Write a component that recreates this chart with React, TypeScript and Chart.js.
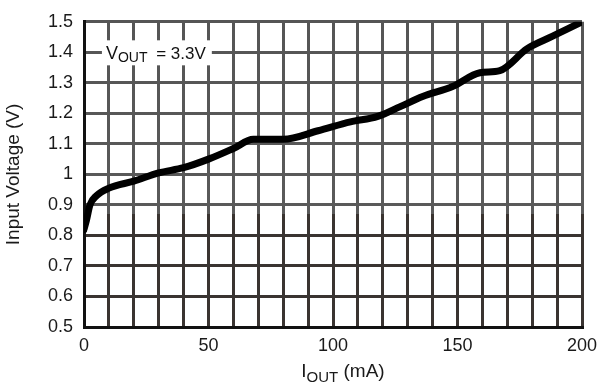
import React, { useEffect, useRef } from "react";
import { Chart, registerables } from "chart.js";

Chart.register(...registerables);

const currentMa = [0, 1, 2.4, 5, 10, 20, 30, 40, 50, 60, 68, 80, 94, 107, 118, 127, 136, 148, 159, 167, 178, 188, 200];
const inputV = [0.82, 0.85, 0.9, 0.93, 0.955, 0.978, 1.005, 1.022, 1.05, 1.085, 1.115, 1.115, 1.143, 1.172, 1.19, 1.222, 1.255, 1.288, 1.333, 1.34, 1.412, 1.452, 1.5];
const xTickLabels = ["0", "50", "100", "150", "200"];
const yTickLabels = ["0.5", "0.6", "0.7", "0.8", "0.9", "1", "1.1", "1.2", "1.3", "1.4", "1.5"];
const annotationMain = "V";
const annotationSub = "OUT";
const annotationRest = " = 3.3V";
const xTitleMain = "I";
const xTitleSub = "OUT";
const xTitleRest = " (mA)";
const yTitle = "Input Voltage (V)";

const FONT = "'Liberation Sans', Arial, sans-serif";

const textPlugin = {
  id: "subscriptTexts",
  beforeDatasetsDraw(chart: any) {
    const ctx = chart.ctx;
    const xs = chart.scales.x;
    const ys = chart.scales.y;
    const ax = xs.getPixelForValue(8);
    const ay = ys.getPixelForValue(1.4);
    ctx.save();
    ctx.font = `18px ${FONT}`;
    const w1 = ctx.measureText(annotationMain).width;
    ctx.font = `14px ${FONT}`;
    const w2 = ctx.measureText(annotationSub).width;
    ctx.font = `17px ${FONT}`;
    const w3 = ctx.measureText(annotationRest).width;
    const total = w1 + w2 + w3;
    ctx.fillStyle = "#ffffff";
    ctx.fillRect(ax - 2, ay - 12, total + 14, 25);
    ctx.fillStyle = "#111";
    ctx.textBaseline = "alphabetic";
    ctx.textAlign = "left";
    const base = ay + 7;
    let cx = ax + 2;
    ctx.font = `18px ${FONT}`;
    ctx.fillText(annotationMain, cx, base);
    cx += w1;
    ctx.font = `14px ${FONT}`;
    ctx.fillText(annotationSub, cx, base + 3);
    cx += w2;
    ctx.font = `17px ${FONT}`;
    ctx.fillText(annotationRest, cx + 4, base);
    ctx.restore();
  },
  afterDraw(chart: any) {
    const ctx = chart.ctx;
    const area = chart.chartArea;
    ctx.save();
    ctx.fillStyle = "#1a1a1a";
    ctx.textBaseline = "alphabetic";
    ctx.textAlign = "left";
    ctx.font = `19px ${FONT}`;
    const w1 = ctx.measureText(xTitleMain).width;
    ctx.font = `15px ${FONT}`;
    const w2 = ctx.measureText(xTitleSub).width;
    ctx.font = `19px ${FONT}`;
    const w3 = ctx.measureText(xTitleRest).width;
    const total = w1 + w2 + w3;
    const cxm = (area.left + area.right) / 2 + 10;
    let cx = cxm - total / 2;
    const base = area.bottom + 50;
    ctx.font = `19px ${FONT}`;
    ctx.fillText(xTitleMain, cx, base);
    cx += w1;
    ctx.font = `15px ${FONT}`;
    ctx.fillText(xTitleSub, cx, base + 5);
    cx += w2;
    ctx.font = `19px ${FONT}`;
    ctx.fillText(xTitleRest, cx, base);
    ctx.restore();
  },
};

function gridColor(context: any) {
  const chart = context.chart;
  const area = chart.chartArea;
  if (!area) return "#3a3431";
  const ys = chart.scales.y;
  const g = chart.ctx.createLinearGradient(0, area.top, 0, area.bottom);
  const split = ys ? (ys.getPixelForValue(0.87) - area.top) / (area.bottom - area.top) : 0.65;
  g.addColorStop(0, "#555555");
  g.addColorStop(Math.max(0, Math.min(1, split - 0.001)), "#5a5a5a");
  g.addColorStop(Math.max(0, Math.min(1, split)), "#3a3431");
  g.addColorStop(1, "#3a3431");
  return g;
}

export default function App() {
  const ref = useRef<HTMLCanvasElement | null>(null);
  useEffect(() => {
    if (!ref.current) return;
    const chart = new Chart(ref.current, {
      type: "line",
      data: {
        datasets: [
          {
            data: currentMa.map((x, i) => ({ x, y: inputV[i] })),
            borderColor: "#000000",
            backgroundColor: "#000000",
            borderWidth: 7,
            borderCapStyle: "round",
            borderJoinStyle: "round",
            tension: 0.3,
            cubicInterpolationMode: "monotone",
            pointStyle: "rect",
            pointRadius: (c: any) => (c.dataIndex === 0 ? 4 : 0),
            pointBorderWidth: 0,
          } as any,
        ],
      },
      options: {
        responsive: false,
        animation: false,
        events: [],
        layout: { padding: { top: 13, right: 28, left: 0, bottom: 0 } },
        plugins: {
          legend: { display: false },
          tooltip: { enabled: false },
          title: { display: false },
        },
        scales: {
          x: {
            type: "linear",
            min: 0,
            max: 200,
            ticks: {
              stepSize: 10,
              autoSkip: false,
              maxRotation: 0,
              padding: 8,
              color: "#1a1a1a",
              font: { family: FONT, size: 18 },
              callback: (v: any) => {
                const n = Number(v);
                return n % 50 === 0 ? xTickLabels[n / 50] : "";
              },
            },
            grid: { color: gridColor, lineWidth: 3, drawTicks: false },
            border: { display: true, color: "#111", width: 3 },
            afterFit: (s: any) => {
              s.height = 61;
            },
          },
          y: {
            type: "linear",
            min: 0.5,
            max: 1.5,
            ticks: {
              stepSize: 0.1,
              autoSkip: false,
              padding: 11,
              color: "#1a1a1a",
              font: { family: FONT, size: 18 },
              callback: (v: any) => {
                const idx = Math.round((Number(v) - 0.5) * 10);
                return yTickLabels[idx] ?? "";
              },
            },
            title: {
              display: true,
              text: yTitle,
              color: "#1a1a1a",
              font: { family: FONT, size: 19 },
              padding: { top: 2, bottom: 0 },
            },
            grid: { color: gridColor, lineWidth: 3, drawTicks: false },
            border: { display: true, color: "#111", width: 3 },
            afterFit: (s: any) => {
              s.width = 84;
            },
          },
        },
      },
      plugins: [textPlugin],
    });
    return () => chart.destroy();
  }, []);
  return (
    <div style={{ position: "absolute", left: 0, top: 0, width: 610, height: 388, background: "#fff" }}>
      <canvas ref={ref} width={610} height={388} />
    </div>
  );
}
